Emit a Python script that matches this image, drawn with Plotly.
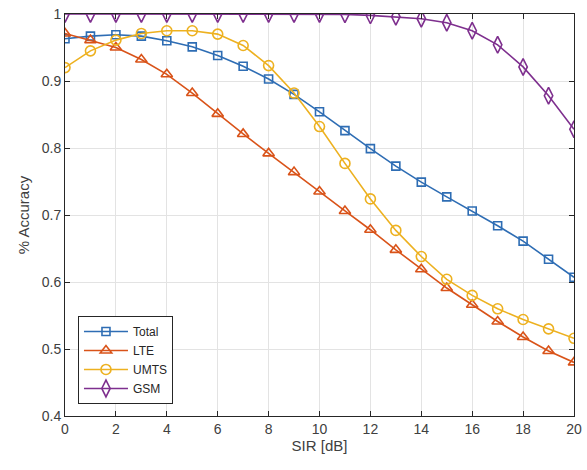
import plotly.graph_objects as go

sir = list(range(0, 21))
total = [0.963, 0.967, 0.969, 0.967, 0.960, 0.951, 0.938, 0.922, 0.903, 0.880, 0.854,
         0.826, 0.799, 0.773, 0.749, 0.727, 0.706, 0.684, 0.661, 0.634, 0.607]
lte = [0.971, 0.961, 0.950, 0.932, 0.910, 0.882, 0.851, 0.821, 0.792, 0.764, 0.735,
       0.706, 0.678, 0.648, 0.619, 0.591, 0.566, 0.541, 0.518, 0.497, 0.480]
umts = [0.920, 0.945, 0.961, 0.971, 0.975, 0.975, 0.970, 0.953, 0.923, 0.882, 0.832,
        0.777, 0.724, 0.677, 0.638, 0.604, 0.580, 0.560, 0.544, 0.530, 0.516]
gsm = [1.000, 1.000, 1.000, 1.000, 1.000, 1.000, 1.000, 1.000, 1.000, 1.000, 1.000,
       0.9995, 0.998, 0.996, 0.993, 0.987, 0.975, 0.954, 0.921, 0.878, 0.828]

series = [
    ("Total", total, "#2E6DB4", "square-open", 8),
    ("LTE", lte, "#D95319", "triangle-up-open", 10),
    ("UMTS", umts, "#EDB120", "circle-open", 10),
    ("GSM", gsm, "#7E2F8E", "diamond-tall-open", 12),
]

fig = go.Figure()
for name, vals, color, sym, sz in series:
    fig.add_trace(go.Scatter(
        x=sir, y=vals, name=name, mode="lines+markers",
        line=dict(color=color, width=1.6),
        marker=dict(symbol=sym, size=sz, color=color, line=dict(width=1.6, color=color)),
    ))

axis_common = dict(
    showline=True, linecolor="#262626", linewidth=1, mirror="ticks",
    ticks="inside", ticklen=5, tickcolor="#262626",
    showgrid=True, gridcolor="#E3E3E3", gridwidth=1, zeroline=False,
    automargin=False, ticklabeloverflow="allow",
    tickfont=dict(family="Liberation Sans, Arial, sans-serif", size=14, color="#404040"),
    title_font=dict(family="Liberation Sans, Arial, sans-serif", size=15, color="#404040"),
)

fig.update_xaxes(range=[0, 20], dtick=2, tick0=0, title_text="SIR [dB]",
                 title_standoff=4, **axis_common)
fig.update_yaxes(range=[0.4, 1.0], title_text="% Accuracy",
                 tickvals=[0.4, 0.5, 0.6, 0.7, 0.8, 0.9, 1.0],
                 ticktext=["0.4", "0.5", "0.6", "0.7", "0.8", "0.9", "1"],
                 title_standoff=8, **axis_common)

fig.update_layout(
    width=587, height=470,
    margin=dict(l=65, r=13, t=14, b=54),
    paper_bgcolor="white", plot_bgcolor="white",
    legend=dict(x=0.0255, y=0.03, xanchor="left", yanchor="bottom",
                bgcolor="white", bordercolor="#262626", borderwidth=1,
                font=dict(family="Liberation Sans, Arial, sans-serif", size=12, color="#262626"),
                tracegroupgap=0, itemwidth=44),
    showlegend=True,
)

fig.write_html("out.html",
               config={"displayModeBar": False},
               post_script="document.body.style.margin='0';document.body.style.overflow='hidden';")
